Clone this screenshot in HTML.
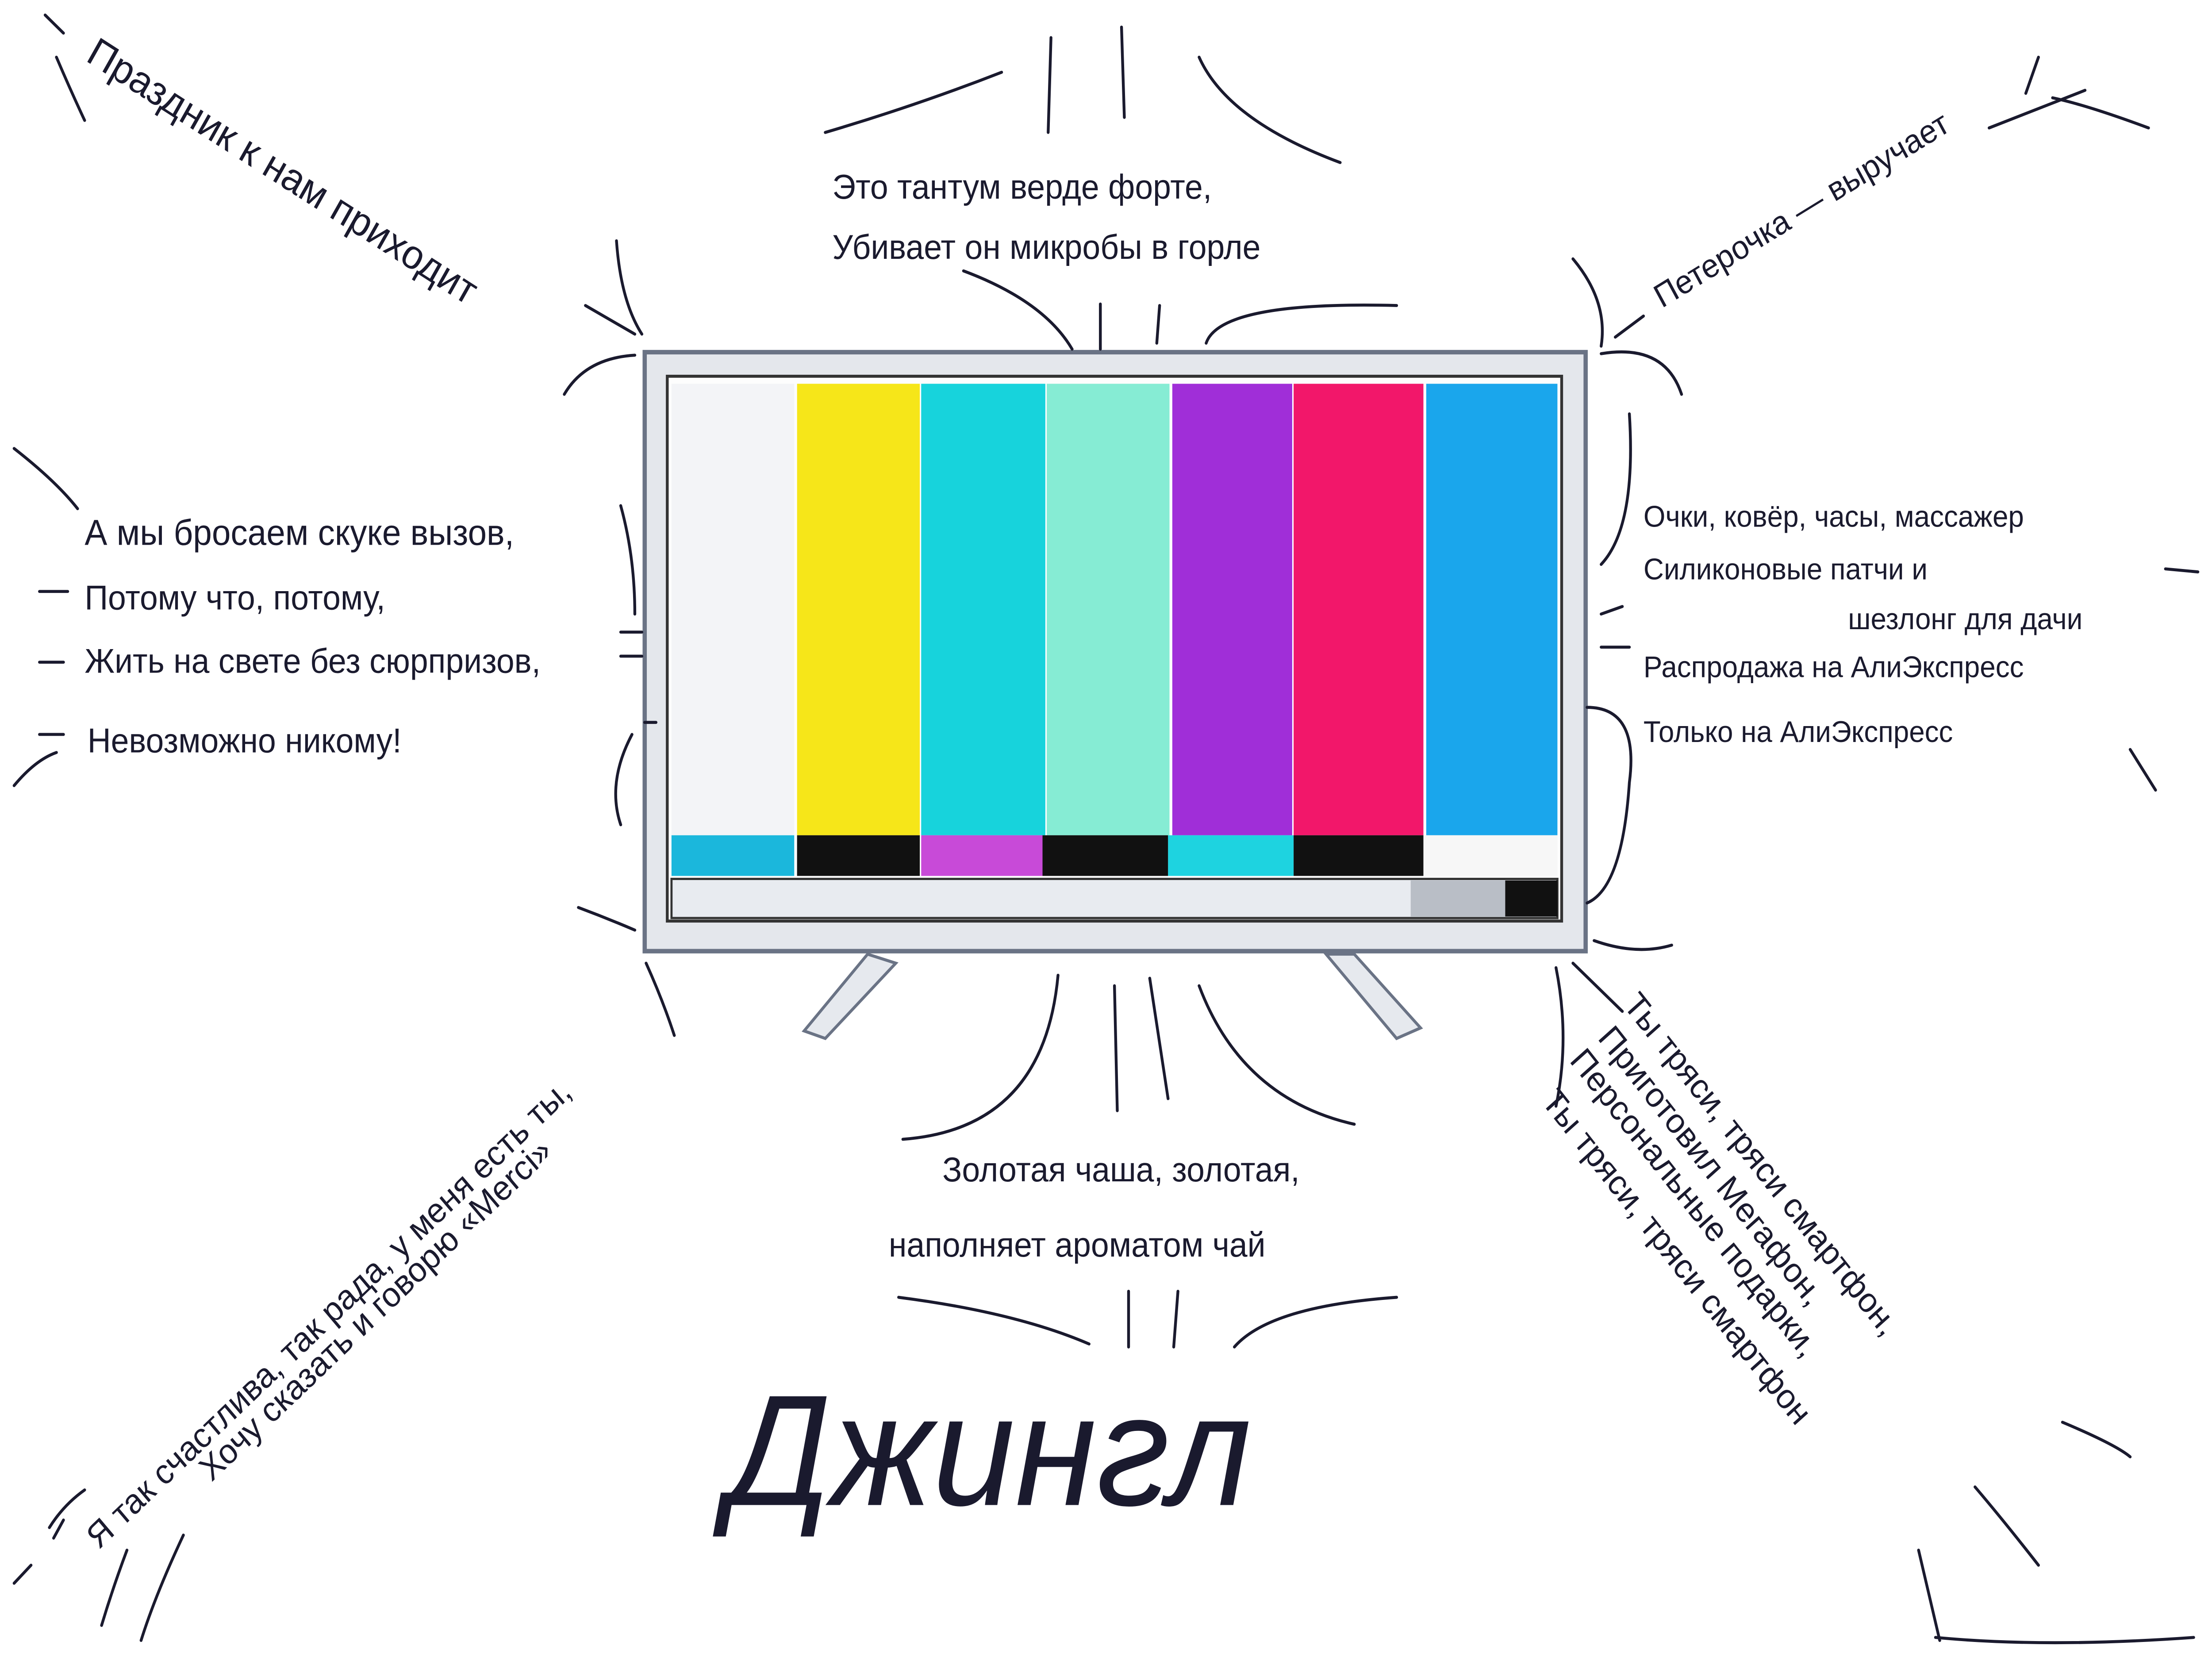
<!DOCTYPE html>
<html><head><meta charset="utf-8">
<style>
html,body{margin:0;padding:0;background:#fff;width:100%;height:100%;overflow:hidden;}
svg{display:block;width:100vw;height:100vh;}
text{font-family:"Liberation Sans","DejaVu Sans",sans-serif;fill:#1a1a2e;}
</style></head>
<body>
<svg viewBox="0 0 1568 1101" preserveAspectRatio="none" xmlns="http://www.w3.org/2000/svg">
<rect width="1568" height="1101" fill="#fff"/>
<rect x="457" y="234" width="667" height="398" fill="#e4e7ec" stroke="#6a7385" stroke-width="3"/>
<rect x="473" y="250" width="634" height="362" fill="#fdfdfd" stroke="#333" stroke-width="2"/>
<rect x="476" y="255" width="87" height="300" fill="#f3f4f7"/>
<rect x="565" y="255" width="87" height="300" fill="#f6e619"/>
<rect x="653" y="255" width="88" height="300" fill="#17d3dc"/>
<rect x="742" y="255" width="87" height="300" fill="#86ecd4"/>
<rect x="831" y="255" width="85" height="300" fill="#a02ed8"/>
<rect x="917" y="255" width="92" height="300" fill="#f2176a"/>
<rect x="1011" y="255" width="93" height="300" fill="#1aa6ec"/>
<rect x="476" y="555" width="87" height="27" fill="#1bb7dc"/>
<rect x="565" y="555" width="87" height="27" fill="#111"/>
<rect x="653" y="555" width="86" height="27" fill="#c84ad8"/>
<rect x="739" y="555" width="89" height="27" fill="#111"/>
<rect x="828" y="555" width="89" height="27" fill="#1ed3e0"/>
<rect x="917" y="555" width="92" height="27" fill="#111"/>
<rect x="1009" y="555" width="95" height="27" fill="#f7f7f7"/>
<rect x="476" y="584" width="628" height="26" fill="#e8ebf0" stroke="#333" stroke-width="1.5"/>
<rect x="1000" y="585" width="67" height="24" fill="#9aa0aa" opacity="0.6"/>
<rect x="1067" y="585" width="37" height="24" fill="#111"/>
<polygon points="615,634 635,640 585,690 570,685" fill="#e6e9ee" stroke="#6a7385" stroke-width="2"/>
<polygon points="940,634 960,634 1007,683 990,690" fill="#e6e9ee" stroke="#6a7385" stroke-width="2"/>

<g fill="none" stroke="#1a1a2e" stroke-width="2" stroke-linecap="round">
<path d="M585,88 Q650,70 710,48"/><path d="M745,25 L743,88"/><path d="M795,18 L797,78"/>
<path d="M850,38 Q870,80 950,108"/>
<path d="M40,38 Q50,60 60,80"/><path d="M32,10 L45,22"/>
<path d="M1445,38 L1436,62"/><path d="M1410,85 L1478,60"/>
<path d="M415,203 L450,222"/><path d="M437,160 Q440,200 455,222"/>
<path d="M400,262 Q415,238 450,236"/>
<path d="M683,180 Q740,200 760,232"/><path d="M780,202 L780,232"/><path d="M822,203 L820,228"/>
<path d="M855,228 Q865,200 990,203"/>
<path d="M1115,172 Q1140,200 1135,230"/><path d="M1145,224 L1165,210"/>
<path d="M1135,235 Q1180,228 1192,262"/>
<path d="M10,298 Q40,320 55,338"/>
<path d="M440,336 Q450,370 450,408"/><path d="M440,420 L455,420"/><path d="M440,436 L455,436"/>
<path d="M457,480 L465,480"/><path d="M448,488 Q430,520 440,548"/>
<path d="M28,393 L48,393"/><path d="M28,440 L45,440"/><path d="M28,488 L45,488"/>
<path d="M10,522 Q25,505 40,500"/>
<path d="M1135,375 Q1160,350 1155,275"/><path d="M1135,408 L1150,403"/><path d="M1135,430 L1155,430"/>
<path d="M1125,470 Q1162,470 1155,520 Q1150,590 1125,600"/>
<path d="M1535,378 L1558,380"/><path d="M1510,498 L1528,525"/>
<path d="M1523,85 Q1480,70 1455,65"/>
<path d="M1130,625 Q1160,635 1185,628"/>
<path d="M410,603 Q430,610 450,618"/><path d="M458,640 Q470,665 478,688"/>
<path d="M640,757 Q740,750 750,648"/><path d="M790,655 L792,738"/><path d="M815,650 L828,730"/>
<path d="M850,655 Q880,730 960,747"/>
<path d="M1103,643 Q1113,690 1103,735"/><path d="M1115,640 L1150,672"/>
<path d="M637,862 Q720,872 772,893"/><path d="M800,858 L800,895"/><path d="M835,858 L832,895"/>
<path d="M875,895 Q900,868 990,862"/>
<path d="M60,990 Q45,1000 35,1015"/><path d="M10,1052 L22,1040"/><path d="M45,1010 L38,1022"/>
<path d="M90,1030 Q80,1055 72,1080"/><path d="M130,1020 Q110,1060 100,1090"/>
<path d="M1462,945 Q1500,960 1510,968"/><path d="M1400,988 Q1420,1010 1445,1040"/>
<path d="M1360,1030 L1375,1090"/><path d="M1372,1088 Q1450,1095 1555,1088"/>
</g>

<text x="60" y="40" font-size="27" transform="rotate(31 60 40)">Праздник к нам приходит</text>
<text x="590" y="132" font-size="23">Это тантум верде форте,</text>
<text x="590" y="172" font-size="23">Убивает он микробы в горле</text>
<text x="1178" y="205" font-size="22" transform="rotate(-30 1178 205)">Петерочка — выручает</text>
<text x="60" y="362" font-size="24">А мы бросаем скуке вызов,</text>
<text x="60" y="405" font-size="23">Потому что, потому,</text>
<text x="60" y="447" font-size="23">Жить на свете без сюрпризов,</text>
<text x="62" y="500" font-size="23">Невозможно никому!</text>
<text x="1165" y="350" font-size="20">Очки, ковёр, часы, массажер</text>
<text x="1165" y="385" font-size="20">Силиконовые патчи и</text>
<text x="1310" y="418" font-size="20">шезлонг для дачи</text>
<text x="1165" y="450" font-size="20">Распродажа на АлиЭкспресс</text>
<text x="1165" y="493" font-size="20">Только на АлиЭкспресс</text>
<text x="668" y="785" font-size="23">Золотая чаша, золотая,</text>
<text x="630" y="835" font-size="23">наполняет ароматом чай</text>
<text x="515" y="1000" font-size="105" font-style="italic">Джингл</text>
<text x="70" y="1030" font-size="23" transform="rotate(-42 70 1030)">Я так счастлива, так рада, у меня есть ты,</text>
<text x="150" y="985" font-size="23" transform="rotate(-42 150 985)">Хочу сказать и говорю «Merci»</text>
<text x="1150" y="668" font-size="23" transform="rotate(50 1150 668)">Ты тряси, тряси смартфон,</text>
<text x="1132" y="690" font-size="23" transform="rotate(50 1132 690)">Приготовил Мегафон,</text>
<text x="1112" y="705" font-size="23" transform="rotate(50 1112 705)">Персональные подарки,</text>
<text x="1092" y="732" font-size="23" transform="rotate(50 1092 732)">Ты тряси, тряси смартфон</text>
</svg>
</body></html>
